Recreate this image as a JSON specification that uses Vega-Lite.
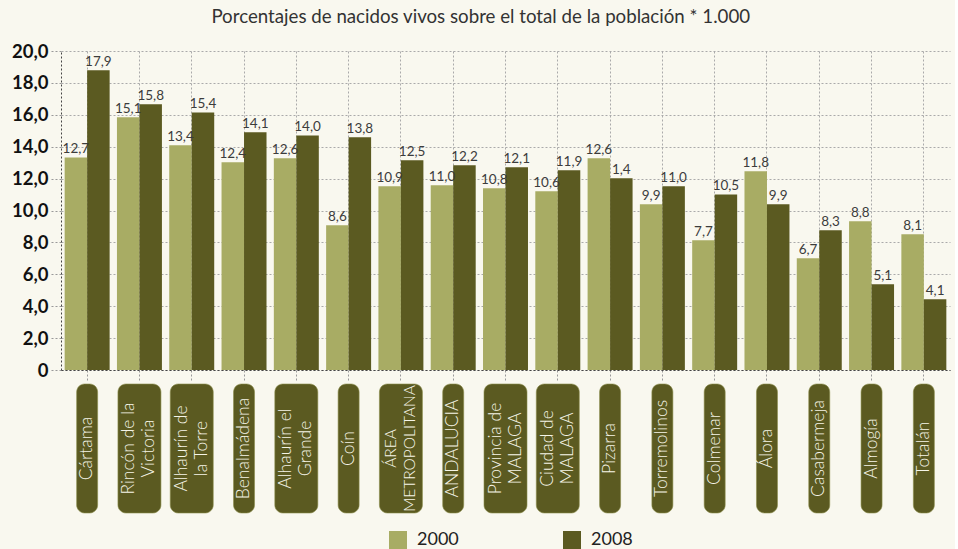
{
  "$schema": "https://vega.github.io/schema/vega-lite/v6.json",
  "background": "#f9f8ef",
  "padding": {"left": 11, "top": 8, "right": 5, "bottom": 0},
  "title": {"text": "Porcentajes de nacidos vivos sobre el total de la población * 1.000", "fontSize": 18.7, "font": "Lato", "fontWeight": "normal", "color": "#333333", "anchor": "middle", "frame": "bounds", "offset": 15},
  "datasets": {
    "barras": [
      {"municipio": "Cártama", "anio": "2000", "valor": 13.33, "etiqueta": "12,7"},
      {"municipio": "Cártama", "anio": "2008", "valor": 18.79, "etiqueta": "17,9"},
      {"municipio": "Rincón de la Victoria", "anio": "2000", "valor": 15.84, "etiqueta": "15,1"},
      {"municipio": "Rincón de la Victoria", "anio": "2008", "valor": 16.66, "etiqueta": "15,8"},
      {"municipio": "Alhaurín de la Torre", "anio": "2000", "valor": 14.09, "etiqueta": "13,4"},
      {"municipio": "Alhaurín de la Torre", "anio": "2008", "valor": 16.15, "etiqueta": "15,4"},
      {"municipio": "Benalmádena", "anio": "2000", "valor": 13.02, "etiqueta": "12,4"},
      {"municipio": "Benalmádena", "anio": "2008", "valor": 14.9, "etiqueta": "14,1"},
      {"municipio": "Alhaurín el Grande", "anio": "2000", "valor": 13.27, "etiqueta": "12,6"},
      {"municipio": "Alhaurín el Grande", "anio": "2008", "valor": 14.71, "etiqueta": "14,0"},
      {"municipio": "Coín", "anio": "2000", "valor": 9.07, "etiqueta": "8,6"},
      {"municipio": "Coín", "anio": "2008", "valor": 14.59, "etiqueta": "13,8"},
      {"municipio": "ÁREA METROPOLITANA", "anio": "2000", "valor": 11.52, "etiqueta": "10,9"},
      {"municipio": "ÁREA METROPOLITANA", "anio": "2008", "valor": 13.15, "etiqueta": "12,5"},
      {"municipio": "ANDALUCIA", "anio": "2000", "valor": 11.58, "etiqueta": "11,0"},
      {"municipio": "ANDALUCIA", "anio": "2008", "valor": 12.83, "etiqueta": "12,2"},
      {"municipio": "Provincia de MALAGA", "anio": "2000", "valor": 11.39, "etiqueta": "10,8"},
      {"municipio": "Provincia de MALAGA", "anio": "2008", "valor": 12.71, "etiqueta": "12,1"},
      {"municipio": "Ciudad de MALAGA", "anio": "2000", "valor": 11.2, "etiqueta": "10,6"},
      {"municipio": "Ciudad de MALAGA", "anio": "2008", "valor": 12.52, "etiqueta": "11,9"},
      {"municipio": "Pizarra", "anio": "2000", "valor": 13.27, "etiqueta": "12,6"},
      {"municipio": "Pizarra", "anio": "2008", "valor": 12.02, "etiqueta": "1,4"},
      {"municipio": "Torremolinos", "anio": "2000", "valor": 10.39, "etiqueta": "9,9"},
      {"municipio": "Torremolinos", "anio": "2008", "valor": 11.52, "etiqueta": "11,0"},
      {"municipio": "Colmenar", "anio": "2000", "valor": 8.13, "etiqueta": "7,7"},
      {"municipio": "Colmenar", "anio": "2008", "valor": 11.01, "etiqueta": "10,5"},
      {"municipio": "Álora", "anio": "2000", "valor": 12.46, "etiqueta": "11,8"},
      {"municipio": "Álora", "anio": "2008", "valor": 10.39, "etiqueta": "9,9"},
      {"municipio": "Casabermeja", "anio": "2000", "valor": 7.0, "etiqueta": "6,7"},
      {"municipio": "Casabermeja", "anio": "2008", "valor": 8.76, "etiqueta": "8,3"},
      {"municipio": "Almogía", "anio": "2000", "valor": 9.32, "etiqueta": "8,8"},
      {"municipio": "Almogía", "anio": "2008", "valor": 5.37, "etiqueta": "5,1"},
      {"municipio": "Totalán", "anio": "2000", "valor": 8.51, "etiqueta": "8,1"},
      {"municipio": "Totalán", "anio": "2008", "valor": 4.43, "etiqueta": "4,1"}
    ],
    "nombres": [
      {"municipio": "Cártama", "texto": "Cártama", "lineas": 1},
      {"municipio": "Rincón de la Victoria", "texto": "Rincón de la\nVictoria", "lineas": 2},
      {"municipio": "Alhaurín de la Torre", "texto": "Alhaurín de\nla Torre", "lineas": 2},
      {"municipio": "Benalmádena", "texto": "Benalmádena", "lineas": 1},
      {"municipio": "Alhaurín el Grande", "texto": "Alhaurín el\nGrande", "lineas": 2},
      {"municipio": "Coín", "texto": "Coín", "lineas": 1},
      {"municipio": "ÁREA METROPOLITANA", "texto": "ÁREA\nMETROPOLITANA", "lineas": 2},
      {"municipio": "ANDALUCIA", "texto": "ANDALUCIA", "lineas": 1},
      {"municipio": "Provincia de MALAGA", "texto": "Provincia de\nMALAGA", "lineas": 2},
      {"municipio": "Ciudad de MALAGA", "texto": "Ciudad de\nMALAGA", "lineas": 2},
      {"municipio": "Pizarra", "texto": "Pizarra", "lineas": 1},
      {"municipio": "Torremolinos", "texto": "Torremolinos", "lineas": 1},
      {"municipio": "Colmenar", "texto": "Colmenar", "lineas": 1},
      {"municipio": "Álora", "texto": "Álora", "lineas": 1},
      {"municipio": "Casabermeja", "texto": "Casabermeja", "lineas": 1},
      {"municipio": "Almogía", "texto": "Almogía", "lineas": 1},
      {"municipio": "Totalán", "texto": "Totalán", "lineas": 1}
    ]
  },
  "spacing": 0,
  "vconcat": [
    {
      "width": 889,
      "height": 319,
      "data": {"name": "barras"},
      "encoding": {
        "x": {"field": "municipio", "type": "nominal", "sort": null,
          "scale": {"paddingInner": 0.14, "paddingOuter": 0.07},
          "axis": {"labels": false, "title": null, "tickSize": 12, "tickDash": [2, 2], "tickColor": "#999999",
            "domainDash": [2, 2], "domainColor": "#444444", "grid": true, "gridDash": [2, 2], "gridColor": "#aaaaaa", "bandPosition": 0.5}},
        "xOffset": {"field": "anio", "type": "nominal", "scale": {"paddingInner": 0, "paddingOuter": 0}},
        "y": {"field": "valor", "type": "quantitative",
          "scale": {"domain": [0, 20], "nice": false},
          "axis": {"values": [0, 2, 4, 6, 8, 10, 12, 14, 16, 18, 20], "title": null,
            "labelExpr": "datum.value == 0 ? '0' : replace(format(datum.value, '.1f'), '.', ',')",
            "labelFont": "Lato", "labelFontSize": 18.5, "labelFontWeight": "bold", "labelColor": "#111111",
            "gridDash": [2, 2], "gridColor": "#aaaaaa", "tickDash": [2, 2], "tickColor": "#999999", "tickSize": 10, "labelPadding": 3,
            "domainDash": [2, 2], "domainColor": "#444444"}}
      },
      "layer": [
        {
          "mark": {"type": "bar"},
          "encoding": {
            "color": {"field": "anio", "type": "nominal",
              "scale": {"domain": ["2000", "2008"], "range": ["#a8ac64", "#5b5a21"]},
              "legend": {"orient": "none", "legendX": 328, "legendY": 480, "direction": "horizontal", "title": null,
                "symbolType": "square", "symbolSize": 324, "symbolStrokeWidth": 0, "labelFontSize": 18, "labelFont": "Lato",
                "labelColor": "#222222", "columnPadding": 104, "labelOffset": 10}}
          }
        },
        {
          "mark": {"type": "text", "dy": -8, "fontSize": 13.5, "font": "Lato", "color": "#3c3c3c"},
          "encoding": {"text": {"field": "etiqueta"}}
        }
      ]
    },
    {
      "width": 889,
      "height": 129,
      "data": {"name": "nombres"},
      "encoding": {
        "x": {"field": "municipio", "type": "nominal", "sort": null,
          "scale": {"paddingInner": 0.14, "paddingOuter": 0.07}, "axis": null}
      },
      "layer": [
        {
          "mark": {"type": "bar", "cornerRadius": 8, "color": "#5b5a21", "stroke": "#8c8d4c", "strokeWidth": 0.6},
          "encoding": {
            "y": {"datum": 1, "type": "quantitative", "scale": {"domain": [0, 1], "nice": false}, "axis": null},
            "y2": {"datum": 0},
            "size": {"field": "lineas", "type": "quantitative", "scale": {"domain": [1, 2], "range": [21, 43], "zero": false}, "legend": null}
          }
        },
        {
          "transform": [{"filter": "datum.lineas == 1"}],
          "mark": {"type": "text", "angle": 270, "align": "center", "baseline": "middle",
            "font": "Lato", "fontWeight": 300, "fontSize": 17.5, "color": "#f6f5e8"},
          "encoding": {
            "y": {"datum": 0.5, "type": "quantitative", "scale": {"domain": [0, 1], "nice": false}, "axis": null},
            "text": {"field": "texto"}
          }
        },
        {
          "transform": [{"filter": "datum.lineas == 2 && datum.municipio != 'ÁREA METROPOLITANA'"}],
          "mark": {"type": "text", "angle": 270, "align": "center", "baseline": "middle", "lineBreak": "\n", "lineHeight": 20, "dy": -10,
            "font": "Lato", "fontWeight": 300, "fontSize": 17.5, "color": "#f6f5e8"},
          "encoding": {
            "y": {"datum": 0.5, "type": "quantitative", "scale": {"domain": [0, 1], "nice": false}, "axis": null},
            "text": {"field": "texto"}
          }
        },
        {
          "transform": [{"filter": "datum.municipio == 'ÁREA METROPOLITANA'"}],
          "mark": {"type": "text", "angle": 270, "align": "center", "baseline": "middle", "lineBreak": "\n", "lineHeight": 19, "dy": -9.5,
            "font": "Lato", "fontWeight": 300, "fontSize": 15.5, "color": "#f6f5e8"},
          "encoding": {
            "y": {"datum": 0.5, "type": "quantitative", "scale": {"domain": [0, 1], "nice": false}, "axis": null},
            "text": {"field": "texto"}
          }
        }
      ]
    }
  ],
  "resolve": {"scale": {"x": "independent"}},
  "config": {"view": {"stroke": null}}
}
